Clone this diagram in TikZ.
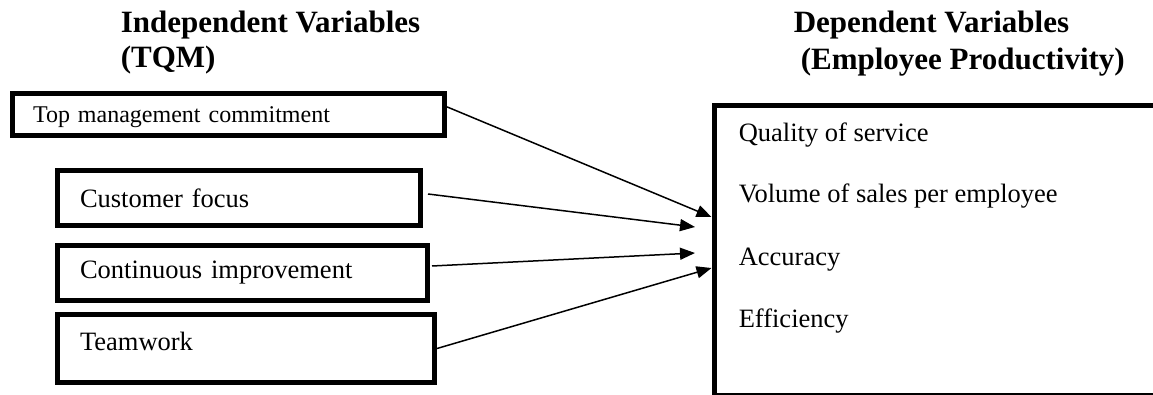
\documentclass[tikz,border=0pt]{standalone}
\usepackage{fontspec}
\setmainfont{Liberation Serif}
\usetikzlibrary{arrows.meta,positioning,calc}
\tikzset{
  every picture/.style={line width=1.5pt, x=1pt, y=1pt},
  sHead/.style={anchor=base west, inner sep=0pt, font=\fontsize{31}{36}\selectfont\bfseries},
  sItem/.style={anchor=base west, inner sep=0pt, font=\fontsize{26.5}{30}\selectfont},
  sBox/.style={draw, line width=5pt, inner xsep=22.5pt, inner ysep=0pt, align=left,
               text depth=0pt, font=\fontsize{26.5}{30}\selectfont},
  sDep/.style={draw, line width=5pt, inner sep=0pt},
  sArr/.style={-{Triangle[length=15pt, width=12pt]}, line width=1.5pt},
}

\begin{document}
\begin{tikzpicture}
  \clip (0,0) rectangle (1153,394);
  % column headings
  \node[sHead] (ivT) at (120,361) {Independent Variables};
  \node[sHead] (ivS) at (120,326) {(TQM)};
  \node[sHead] (dvT) at (793,361) {Dependent Variables};
  \node[sHead] (dvS) at (800,324) {(Employee Productivity)};
  % TQM factors (text height only sets where the baseline sits)
  \node[sBox, inner xsep=20.5pt, text width=391pt, minimum height=42pt, text height=17pt,
        font=\fontsize{24}{28}\selectfont] (tmc) at (228.5,279.5) {Top management commitment};
  \node[sBox, text width=318pt, minimum height=55pt, text height=20pt] (cust) at (239,196) {Customer focus};
  \node[sBox, text width=325pt, minimum height=55pt, text height=10pt] (cont) at (242.5,121) {Continuous improvement};
  \node[sBox, text width=332pt, minimum height=68pt, text height=3pt] (team) at (246,45.5) {Teamwork};
  % productivity box, runs past the right and bottom edges
  \node[sDep, minimum width=446pt, minimum height=290pt] (dv) at (937,143.5) {};
  \node[sItem] (dQual) at (738,252) {Quality of service};
  \node[sItem] (dVol)  at (738,191) {Volume of sales per employee};
  \node[sItem] (dAcc)  at (738,129) {Accuracy};
  \node[sItem] (dEff)  at (738,67)  {Efficiency};
  % arrow ends
  \coordinate (e1) at (711.5,177);
  \coordinate (e2) at (695,167);
  \coordinate (e3) at (695,141);
  \coordinate (e4) at (711.5,126);
  \draw[sArr] (tmc.2) -- (e1);
  \draw[sArr] ([shift={(5,4)}]cust.east) -- (e2);
  \draw[sArr] ([shift={(2,7)}]cont.east) -- (e3);
  \draw[sArr] (team.east) -- (e4);
\end{tikzpicture}
\end{document}
